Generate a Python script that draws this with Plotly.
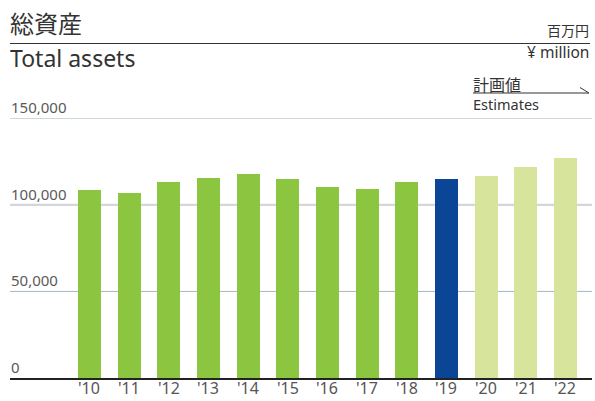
import plotly.graph_objects as go

W, H = 595, 401

years = ["'10", "'11", "'12", "'13", "'14", "'15", "'16", "'17", "'18", "'19", "'20", "'21", "'22"]
total_assets = [108500, 106800, 113100, 115400, 117700, 114800, 110200, 109000, 113100, 114800, 116500, 121700, 126900]
bar_kind = ["actual"] * 9 + ["current"] + ["estimate"] * 3
y_ticks = [0, 50000, 100000, 150000]
y_tick_labels = ["0", "50,000", "100,000", "150,000"]

kind_colors = {"actual": "#8cc540", "current": "#0b4595", "estimate": "#d6e59b"}
JP = "Noto Sans CJK JP"
LAT = "Noto Sans"

def px(x):
    return x / W

def py(y):
    return 1 - y / H

fig = go.Figure()
fig.add_trace(go.Bar(
    x=list(range(len(years))),
    y=total_assets,
    marker=dict(color=[kind_colors[k] for k in bar_kind], line=dict(width=0)),
    width=0.58,
    hoverinfo="skip",
))

shapes = []
grid_style = {0: None, 50000: ("#a9b7c2", 1), 100000: ("#d3d7db", 2.2), 150000: ("#a9bcc6", 1)}
for v in y_ticks:
    st = grid_style[v]
    if st is None:
        continue
    shapes.append(dict(type="line", xref="paper", yref="y", x0=px(10), x1=px(592), y0=v, y1=v,
                       line=dict(color=st[0], width=st[1]), layer="below"))
shapes.append(dict(type="line", xref="paper", yref="paper", x0=px(10), x1=px(590), y0=py(43.5), y1=py(43.5),
                   line=dict(color="#333333", width=1.2)))
shapes.append(dict(type="line", xref="paper", yref="paper", x0=px(473), x1=px(589), y0=py(93), y1=py(93),
                   line=dict(color="#333333", width=1.2)))
shapes.append(dict(type="line", xref="paper", yref="paper", x0=px(580), x1=px(589), y0=py(87.5), y1=py(93),
                   line=dict(color="#333333", width=1)))

annotations = []
for v, t in zip(y_ticks, y_tick_labels):
    annotations.append(dict(text=t, xref="paper", yref="y", x=px(9), y=v, xanchor="left", yanchor="bottom",
                            yshift=-1, showarrow=False, font=dict(family=LAT, size=15, color="#5a5a5a")))

# category labels under the axis, positioned by the x axis scale
for i, t in enumerate(years):
    annotations.append(dict(text=t, xref="x", yref="paper", x=i, y=0, xanchor="center", yanchor="bottom",
                            showarrow=False, font=dict(family=LAT, size=16, color="#555555")))

def txt(s, x, y, size, anchor="left", color="#333333", family=JP):
    annotations.append(dict(text=s, xref="paper", yref="paper", x=px(x), y=py(y), xanchor=anchor,
                            yanchor="middle", showarrow=False, font=dict(family=family, size=size, color=color)))

txt("総資産", 8, 22, 24)
txt("Total assets", 8, 58, 23, family=LAT)
txt("百万円", 591, 30, 14, "right")
txt("¥ million", 591, 52, 15.5, "right", family=LAT)
txt("計画値", 471, 84, 16)
txt("Estimates", 471, 103.5, 14.5, family=LAT)

fig.update_layout(
    width=W, height=H,
    margin=dict(l=0, r=0, t=0, b=0, autoexpand=False),
    paper_bgcolor="white", plot_bgcolor="white",
    showlegend=False,
    bargap=0,
    shapes=shapes,
    annotations=annotations,
    xaxis=dict(
        domain=[px(10), px(592)],
        range=[-2.0, 12.67],
        automargin=False,
        showticklabels=False,
        showgrid=False, zeroline=False,
        showline=True, linecolor="#222222", linewidth=1.5,
        ticks="",
        fixedrange=True,
    ),
    yaxis=dict(
        domain=[23 / H, (H - 118.3) / H],
        range=[0, 150000],
        automargin=False,
        showgrid=False, zeroline=False, showline=False,
        showticklabels=False, ticks="",
        fixedrange=True,
    ),
)

fig.write_html("out.html", config={"displayModeBar": False},
               post_script="document.body.style.margin='0';document.body.style.overflow='hidden';")
